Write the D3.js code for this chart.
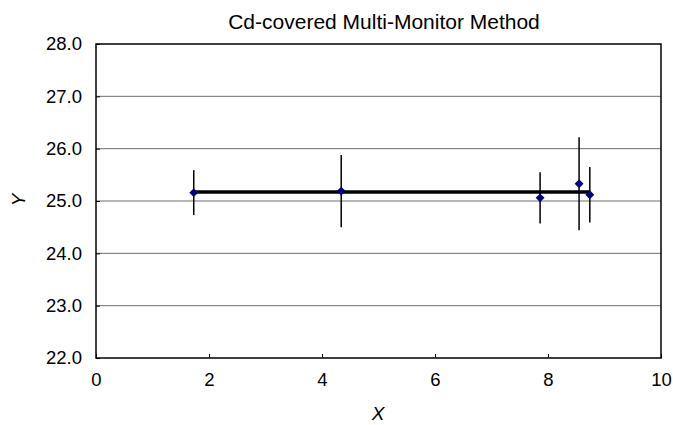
<!DOCTYPE html>
<html>
<head>
<meta charset="utf-8">
<script src="https://cdn.jsdelivr.net/npm/d3@7"></script>
<style>
  body { margin: 0; background: #fff; }
  text { font-family: "Liberation Sans", Arial, sans-serif; fill: #000; }
</style>
</head>
<body>
<svg width="673" height="425"></svg>
<script>
// Data
const xValues = [1.73, 4.34, 7.86, 8.55, 8.74];
const yValues = [25.16, 25.19, 25.06, 25.33, 25.12];
const yErrors = [0.43, 0.69, 0.49, 0.89, 0.53];
const meanLine = [{ x: 1.73, y: 25.17 }, { x: 8.74, y: 25.17 }];
const xTicks = [0, 2, 4, 6, 8, 10];
const yTicks = [22, 23, 24, 25, 26, 27, 28];

const width = 673;
const height = 425;
const margin = { top: 44, right: 12, bottom: 67, left: 96 };

const svg = d3.select("svg");
const chartWidth = width - margin.left - margin.right;
const chartHeight = height - margin.top - margin.bottom;

const chart = svg.append("g")
  .attr("transform", `translate(${margin.left}, ${margin.top})`);

// Scales
const xScale = d3.scaleLinear().domain([0, 10]).range([0, chartWidth]);
const yScale = d3.scaleLinear().domain([22, 28]).range([chartHeight, 0]);

// Gridlines
chart.append("g")
  .selectAll("line")
  .data(yTicks.slice(1, -1))
  .enter()
  .append("line")
  .attr("x1", 0)
  .attr("x2", chartWidth)
  .attr("y1", d => yScale(d))
  .attr("y2", d => yScale(d))
  .attr("stroke", "#6e6e6e")
  .attr("stroke-width", 1);

// Axes
const xAxis = chart.append("g")
  .attr("transform", `translate(0, ${chartHeight})`)
  .call(d3.axisBottom(xScale).tickValues(xTicks).tickSizeInner(-4).tickSizeOuter(0).tickPadding(15).tickFormat(d3.format("d")));

const yAxis = chart.append("g")
  .call(d3.axisLeft(yScale).tickValues(yTicks).tickSizeInner(-4).tickSizeOuter(0).tickPadding(14).tickFormat(d3.format(".1f")));

[xAxis, yAxis].forEach(a => {
  a.select(".domain").remove();
  a.selectAll("text").style("font-size", "18.5px").attr("font-family", null);
  a.selectAll("line").attr("stroke-width", 1);
});

// Frame
chart.append("rect")
  .attr("width", chartWidth)
  .attr("height", chartHeight)
  .attr("fill", "none")
  .attr("stroke", "#000")
  .attr("stroke-width", 1.5);

// Mean line
chart.append("path")
  .datum(meanLine)
  .attr("d", d3.line().x(d => xScale(d.x)).y(d => yScale(d.y)))
  .attr("stroke", "#000")
  .attr("stroke-width", 3.5)
  .attr("fill", "none");

// Error bars
chart.selectAll(".err")
  .data(xValues)
  .enter()
  .append("line")
  .attr("class", "err")
  .attr("x1", d => xScale(d))
  .attr("x2", d => xScale(d))
  .attr("y1", (d, i) => yScale(yValues[i] + yErrors[i]))
  .attr("y2", (d, i) => yScale(yValues[i] - yErrors[i]))
  .attr("stroke", "#000")
  .attr("stroke-width", 1.5);

// Points
chart.selectAll(".pt")
  .data(xValues)
  .enter()
  .append("path")
  .attr("class", "pt")
  .attr("d", d3.symbol().type(d3.symbolDiamond2).size(50))
  .attr("transform", (d, i) => `translate(${xScale(d)}, ${yScale(yValues[i])})`)
  .attr("fill", "#000080");

// Title and labels
svg.append("text")
  .attr("x", 384)
  .attr("y", 29)
  .attr("text-anchor", "middle")
  .style("font-size", "21px")
  .text("Cd-covered Multi-Monitor Method");

svg.append("text")
  .attr("x", 378)
  .attr("y", 420)
  .attr("text-anchor", "middle")
  .style("font-size", "19px")
  .style("font-style", "italic")
  .text("X");

svg.append("text")
  .attr("transform", `translate(25, 200) rotate(-90)`)
  .attr("text-anchor", "middle")
  .style("font-size", "19px")
  .style("font-style", "italic")
  .text("Y");
</script>
</body>
</html>
